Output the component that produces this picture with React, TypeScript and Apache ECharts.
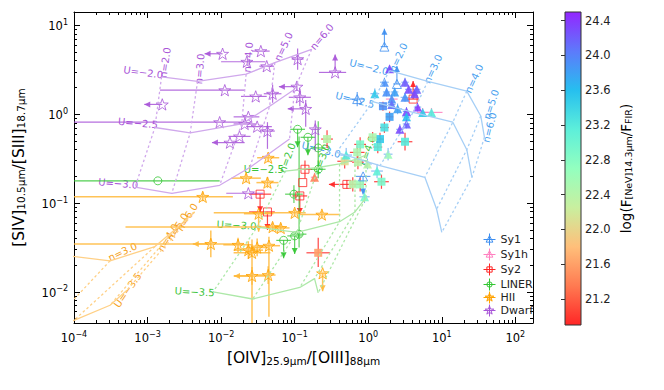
import React, { useEffect, useRef } from 'react';
import * as echarts from 'echarts';

const FONT = 'DejaVu Sans';

// axis ranges (log10 units)
const X_MIN = -4, X_MAX = 2.24;
const Y_MIN = -2.35, Y_MAX = 1.15;
const xMajor = [-4, -3, -2, -1, 0, 1, 2];
const yMajor = [-2, -1, 0, 1];
const cbarMin = 20.9, cbarMax = 24.5;
const cbarTicks = [21.2, 21.6, 22.0, 22.4, 22.8, 23.2, 23.6, 24.0, 24.4];

// model grids: [log OIV/OIII, log SIV/SIII], points ordered n=2.0 .. n=6.0
const agnU20 = [[0.29, 0.49], [0.81, 0.37], [1.34, 0.26], [1.53, -0.02], [1.58, -0.26]];
const agnU25 = [[0.06, 0.14], [0.61, 0.02], [1.15, -0.09], [1.34, -0.40], [1.41, -0.71]];
const agnU30 = [[-0.43, -0.43], [0.16, -0.58], [0.77, -0.71], [0.93, -1.07], [1.0, -1.33]];
const dwarfU20 = [[-2.81, 0.42], [-2.32, 0.37], [-1.66, 0.45], [-1.27, 0.58], [-0.77, 0.73]];
const dwarfU25 = [[-2.9, -0.15], [-2.42, -0.21], [-1.72, -0.11], [-1.34, 0.09], [-1.0, 0.28]];
const dwarfU30 = [[-3.17, -0.82], [-2.67, -0.89], [-2.02, -0.8], [-1.61, -0.6], [-1.07, -0.28]];
const linerU25 = [[-1.13, -0.64], [-0.68, -0.6], [-0.39, -0.56], [-0.18, -0.51], [-0.03, -0.46]];
const linerU30 = [[-1.51, -1.27], [-0.97, -1.33], [-0.39, -1.21], [-0.18, -1.1], [-0.03, -0.94]];
const linerU35 = [[-2.11, -2.0], [-1.57, -2.08], [-0.93, -1.95], [-0.73, -1.85], [-0.68, -2.01]];
const hiiU30 = [[-4.33, -1.57], [-3.51, -1.65], [-2.9, -1.49], [-2.63, -1.3], [-2.36, -1.1]];
const hiiU35 = [[-5.0, -2.7], [-4.46, -2.49], [-4.0, -2.32], [-3.51, -2.15], [-3.28, -1.98]];

// grid labels: [x, y, text, rotation(deg), grid]
const gridLabels: [number, number, string, number, string][] = [
  [0.01, 0.53, 'U=−2.0', -14, 'agn'],
  [-0.18, 0.16, 'U=−2.5', -14, 'agn'],
  [-0.64, -0.4, 'U=−3.0', -14, 'agn'],
  [0.41, 0.64, 'n=2.0', 65, 'agn'],
  [0.88, 0.51, 'n=3.0', 65, 'agn'],
  [1.44, 0.4, 'n=4.0', 65, 'agn'],
  [1.67, 0.11, 'n=5.0', 72, 'agn'],
  [1.65, -0.15, 'n=6.0', 76, 'agn'],
  [-3.06, 0.47, 'U=−2.0', -8, 'dwarf'],
  [-3.13, -0.1, 'U=−2.5', -5, 'dwarf'],
  [-3.4, -0.78, 'U=−3.0', -5, 'dwarf'],
  [-2.76, 0.58, 'n=2.0', 82, 'dwarf'],
  [-2.29, 0.51, 'n=3.0', 85, 'dwarf'],
  [-1.63, 0.64, 'n=4.0', 85, 'dwarf'],
  [-1.15, 0.76, 'n=5.0', 65, 'dwarf'],
  [-0.63, 0.87, 'n=6.0', 50, 'dwarf'],
  [-1.42, -0.62, 'U=−2.5', 0, 'liner'],
  [-1.79, -1.25, 'U=−3.0', -3, 'liner'],
  [-2.36, -2.0, 'U=−3.5', -3, 'liner'],
  [-1.1, -0.49, 'n=2.0', 70, 'liner'],
  [-0.63, -0.5, 'n=3.0', 70, 'liner'],
  [-0.01, -0.41, 'n=4.0', 70, 'liner'],
  [-3.34, -1.55, 'n=3.0', 25, 'hii'],
  [-2.72, -1.39, 'n=4.0', 58, 'hii'],
  [-2.59, -1.27, 'n=5.0', 58, 'hii'],
  [-2.46, -1.16, 'n=6.0', 58, 'hii'],
  [-3.27, -1.98, 'U=−3.5', 55, 'hii'],
];

// observations: [logX, logY, exLow, exHigh, eyLow, eyHigh, limit(0 none,1 down,2 up,3 left), log F[NeV]/F_FIR]
const sy1 = [
  [0.29, 0.51, 0.05, 0.05, 0.04, 0.04, 0, 24.3], [0.22, 0.36, 0.06, 0.06, 0.05, 0.05, 0, 23.9],
  [0.5, 0.36, 0.05, 0.05, 0.05, 0.05, 0, 24.2], [0.09, 0.23, 0.06, 0.06, 0.06, 0.06, 0, 23.5],
  [0.55, 0.28, 0.05, 0.05, 0.04, 0.04, 0, 24.3], [0.66, 0.28, 0.05, 0.05, 0.04, 0.04, 0, 24.2],
  [0.25, 0.25, 0.05, 0.05, 0.05, 0.05, 0, 23.9], [0.36, 0.25, 0.05, 0.05, 0.05, 0.05, 0, 23.8],
  [0.63, 0.23, 0.05, 0.05, 0.04, 0.04, 0, 24.3], [0.5, 0.19, 0.06, 0.06, 0.05, 0.05, 0, 23.9],
  [0.32, 0.11, 0.05, 0.05, 0.05, 0.05, 0, 24.1], [0.4, 0.06, 0.06, 0.06, 0.06, 0.06, 0, 23.8],
  [0.52, 0.03, 0.05, 0.05, 0.05, 0.05, 0, 24.3], [0.67, 0.08, 0.05, 0.05, 0.05, 0.05, 0, 24.4],
  [0.52, -0.03, 0.06, 0.06, 0.06, 0.06, 0, 23.6], [0.52, -0.11, 0.05, 0.05, 0.05, 0.05, 0, 24.2],
  [0.43, -0.17, 0.05, 0.05, 0.06, 0.06, 0, 24.3], [0.27, -0.45, 0.06, 0.06, 0.07, 0.07, 0, 22.6],
  [-0.3, -0.46, 0.08, 0.08, 0.08, 0.08, 0, 23.2], [0.12, -0.64, 0.08, 0.08, 0.08, 0.08, 0, 23.1],
  [-0.05, -0.93, 0.07, 0.07, 0.07, 0.07, 0, 22.9], [-0.01, -0.56, 0.06, 0.06, 0.06, 0.06, 0, 22.4],
];
const sy1Limits = [
  [0.22, 0.76, 0.05, 0.05, 0, 0, 2], [0.39, 0.34, 0.05, 0.05, 0, 0, 2],
  [-0.07, -0.7, 0.1, 0.1, 0, 0, 1], [-0.15, 0.17, 0.1, 0.1, 0.08, 0.08, 0],
];
const sy1h = [
  [0.86, 0.02, 0.15, 0.15, 0.05, 0.05, 0, 23.2], [0.74, 0.02, 0.08, 0.08, 0.05, 0.05, 0, 23.5],
  [0.32, 0.17, 0.08, 0.08, 0.06, 0.06, 0, 23.9], [-0.73, -0.71, 0.05, 0.05, 0.05, 0.05, 0, 21.4],
];
const sy2 = [
  [0.2, 0.09, 0.05, 0.05, 0.05, 0.05, 0, 23.9], [0.29, -0.03, 0.05, 0.05, 0.06, 0.06, 0, 23.8],
  [0.22, -0.15, 0.06, 0.06, 0.06, 0.06, 0, 23.3], [0.16, -0.28, 0.05, 0.05, 0.07, 0.07, 0, 23.5],
  [0.13, -0.37, 0.06, 0.06, 0.07, 0.07, 0, 23.2], [0.06, -0.26, 0.06, 0.06, 0.06, 0.06, 0, 22.5],
  [-0.11, -0.34, 0.08, 0.08, 0.08, 0.08, 0, 22.9], [-0.15, -0.43, 0.1, 0.1, 0.08, 0.08, 0, 22.5],
  [-0.32, -0.53, 0.1, 0.1, 0.08, 0.08, 0, 22.1], [0.5, -0.31, 0.1, 0.1, 0.1, 0.1, 0, 23.2],
  [-0.14, -0.54, 0.08, 0.08, 0.08, 0.08, 0, 22.4], [0.18, -0.76, 0.1, 0.1, 0.08, 0.08, 0, 22.9],
  [-0.21, -0.79, 0.08, 0.08, 0.08, 0.08, 0, 22.4], [-0.11, -0.79, 0.08, 0.08, 0.08, 0.08, 0, 22.6],
  [-0.68, -1.56, 0.16, 0.16, 0.16, 0.17, 0, 21.6], [-0.56, -0.28, 0.08, 0.08, 0.1, 0.1, 0, 22.4],
];
const sy2Limits = [
  [-0.86, -0.62, 0.1, 0.1, 0.1, 0.1, 0], [-0.89, -0.77, 0, 0, 0, 0, 0],
  [-1.47, -0.9, 0.15, 0.15, 0, 0, 1], [-0.93, -0.92, 0.1, 0.1, 0, 0, 1],
  [-1.37, -1.1, 0.25, 0.1, 0, 0, 1], [0.61, 0.17, 0.08, 0.08, 0, 0, 2],
  [-0.29, -0.79, 0, 0, 0.05, 0.05, 3],
];
const liner = [
  [-2.86, -0.75, 1.14, 0.84, 0, 0, 0], [-0.96, -0.17, 0.1, 0.1, 0, 0, 1],
  [-0.82, -0.26, 0.1, 0.1, 0, 0, 1], [-0.68, -0.38, 0.1, 0.1, 0.3, 0.3, 0],
  [-0.68, -0.62, 0.1, 0.1, 0.1, 0.1, 0], [-1.01, -0.9, 0.12, 0.12, 0.1, 0.1, 0],
  [-1.15, -1.42, 0.1, 0.1, 0, 0, 1], [-1.0, -1.37, 0.1, 0.1, 0, 0, 1],
  [-0.94, -1.35, 0.1, 0.1, 0.15, 1.1, 0],
];
const hii = [
  [-1.36, -0.49, 0.15, 0.15, 0.05, 0.05, 0], [-1.66, -0.72, 0.2, 0.2, 0.05, 0.05, 0],
  [-1.37, -0.77, 0.15, 0.15, 0.06, 0.06, 0], [-2.25, -0.93, 1.75, 0.41, 0.05, 0.05, 0],
  [-1.49, -1.12, 0.2, 0.2, 0, 0, 1], [-1.3, -1.27, 2.0, 0.15, 0.05, 0.05, 0],
  [-1.19, -1.28, 0.12, 0.12, 0.05, 0.05, 0], [-1.0, -1.11, 1.1, 0.15, 0.04, 0.04, 0],
  [-0.63, -1.13, 0.3, 0.25, 0.04, 0.04, 0], [-2.14, -1.46, 1.86, 0.4, 0.15, 0.15, 3],
  [-1.77, -1.47, 0.2, 0.2, 0.08, 0.08, 0], [-1.63, -1.53, 0.2, 0.2, 0.1, 0.1, 0],
  [-1.58, -1.56, 0.25, 0.25, 0.8, 0.15, 0], [-1.51, -1.5, 0.15, 0.15, 0.1, 0.1, 0],
  [-1.35, -1.48, 0.15, 0.15, 0.8, 0.1, 0], [-1.58, -1.82, 0.25, 0.2, 0.1, 0.1, 3],
  [-1.36, -1.81, 0.15, 0.1, 0.1, 0.1, 0], [-0.62, -1.79, 0.05, 0.05, 0, 0, 1],
];
const dwarf = [
  [-1.98, 0.68, 0, 0, 0, 0, 3], [-1.46, 0.71, 0.12, 0.12, 0, 0, 0],
  [-1.65, 0.59, 0.35, 0.25, 0, 0, 0], [-1.38, 0.54, 0.1, 0.1, 0, 0, 0],
  [-0.96, 0.62, 0.08, 0.08, 0.12, 0.12, 0], [-0.45, 0.47, 0.22, 0.15, 0, 0, 2],
  [-1.95, 0.27, 0.88, 0.27, 0, 0, 0], [-2.8, 0.11, 0, 0, 0, 0, 3],
  [-1.53, 0.2, 0.2, 0.15, 0, 0, 0], [-1.3, 0.23, 0.12, 0.12, 0.1, 0.1, 0],
  [-0.97, 0.31, 0, 0, 0.05, 0.05, 3], [-0.93, 0.19, 0.15, 0.15, 0.1, 0.1, 0],
  [-0.85, 0.06, 0, 0, 0.2, 0.1, 3], [-2.02, -0.09, 1.98, 0.35, 0, 0, 0],
  [-1.63, -0.03, 0.2, 0.15, 0, 0, 0], [-1.68, -0.11, 0.15, 0.15, 0, 0, 0],
  [-1.51, -0.14, 0.15, 0.2, 0, 0, 0], [-1.37, -0.19, 0.1, 0.1, 0.2, 0.1, 0],
  [-1.75, -0.25, 0.15, 0.15, 0, 0, 0], [-1.88, -0.32, 0, 0.2, 0, 0, 3],
  [-0.72, -0.17, 0.05, 0.05, 0.25, 0.1, 0], [-1.63, -0.89, 0.3, 0.2, 0, 0, 0],
];

const C: Record<string, string> = {
  sy1: '#3d8ef0', sy1h: '#ff80c0', sy2: '#ff2424', liner: '#33c633', hii: '#ffa200', dwarf: '#a855d8',
};
const LINE_C: Record<string, string> = { agn: '#a6cff6', dwarf: '#d0a8ec', liner: '#ade8a8', hii: '#ffd086' };
const LABEL_C: Record<string, string> = { agn: '#4a9fef', dwarf: '#a855d8', liner: '#3cc43c', hii: '#f5a11a' };
// rainbow colour map (low -> high)
const CMAP = ['#ff2626', '#ff7a51', '#ffbf7a', '#c9ef9f', '#93ffbf', '#5defda', '#26bfef', '#5d7afb', '#9326ff'];

const starPath = 'path://M0,-10L2.35,-3.24L9.51,-3.09L3.8,1.24L5.88,8.09L0,4L-5.88,8.09L-3.8,1.24L-9.51,-3.09L-2.35,-3.24Z';
const cross = 'M0,-8L0,8M-8,0L8,0';
const legTri = 'path://M0,-5L4.5,3.5L-4.5,3.5Z' + cross;
const legSq = 'path://M-3.5,-3.5L3.5,-3.5L3.5,3.5L-3.5,3.5Z' + cross;
const legCirc = 'path://M-3.5,0A3.5,3.5,0,1,0,3.5,0A3.5,3.5,0,1,0,-3.5,0Z' + cross;
const legStar = 'path://M0,-6L1.41,-1.94L5.71,-1.85L2.28,0.74L3.53,4.85L0,2.4L-3.53,4.85L-2.28,0.74L-5.71,-1.85L-1.41,-1.94Z' + cross;

function minorTicks(lo: number, hi: number) {
  const out: number[] = [];
  for (let d = Math.floor(lo) - 1; d <= Math.ceil(hi); d++) {
    for (let k = 2; k <= 9; k++) {
      const v = d + Math.log10(k);
      if (v >= lo && v <= hi) out.push(v);
    }
  }
  return out;
}

const pow10 = (v: number) => `{b|10}{s|${v < 0 ? '−' + Math.abs(v) : v}}`;
const powRich = {
  b: { fontFamily: FONT, fontSize: 11.5, color: '#000', lineHeight: 14, padding: [4, 0, 0, 0], verticalAlign: 'bottom' },
  s: { fontFamily: FONT, fontSize: 8, color: '#000', lineHeight: 10, verticalAlign: 'top' },
};
const nameRich = {
  n: { fontFamily: FONT, fontSize: 15.5, color: '#000', lineHeight: 18, padding: [0, 0, 4, 0], verticalAlign: 'top' },
  sub: { fontFamily: FONT, fontSize: 10.5, color: '#000', lineHeight: 12, padding: [0, 0, 2, 0], verticalAlign: 'bottom' },
};

function gridLines(lines: number[][][], key: string) {
  const out: any[] = [];
  const color = LINE_C[key];
  lines.forEach((l) =>
    out.push({ type: 'line', data: l, symbol: 'none', clip: true, silent: true, lineStyle: { color, width: 1.3 } })
  );
  for (let i = 0; i < lines[0].length; i++) {
    out.push({
      type: 'line', data: lines.map((l) => l[i]), symbol: 'none', clip: true, silent: true,
      lineStyle: { color, width: 1.3, type: [2.5, 2.5] },
    });
  }
  return out;
}

function errSeries(name: string, data: number[][], color: string, width: number) {
  return {
    type: 'custom', name, data, clip: true, silent: true,
    encode: { x: 0, y: 1 },
    renderItem: (params: any, api: any) => {
      const x = api.value(0), y = api.value(1);
      const exL = api.value(2), exH = api.value(3), eyL = api.value(4), eyH = api.value(5), lim = api.value(6);
      const p = api.coord([x, y]);
      const st = { stroke: color, lineWidth: width, opacity: 0.85 };
      const ch: any[] = [];
      if (exL || exH) {
        const a = api.coord([x - exL, y]), b = api.coord([x + exH, y]);
        ch.push({ type: 'line', shape: { x1: a[0], y1: a[1], x2: b[0], y2: b[1] }, style: st });
      }
      if (eyL || eyH) {
        const a = api.coord([x, y - eyL]), b = api.coord([x, y + eyH]);
        ch.push({ type: 'line', shape: { x1: a[0], y1: a[1], x2: b[0], y2: b[1] }, style: st });
      }
      const L = 18;
      if (lim === 1 || lim === 2) {
        const s = lim === 1 ? 1 : -1;
        const ey = p[1] + s * L;
        ch.push({ type: 'line', shape: { x1: p[0], y1: p[1], x2: p[0], y2: ey }, style: st });
        ch.push({ type: 'polygon', shape: { points: [[p[0] - 3, ey - s * 6], [p[0], ey], [p[0] + 3, ey - s * 6]] }, style: { fill: color, opacity: 0.9 } });
      } else if (lim === 3) {
        const ex = p[0] - L;
        ch.push({ type: 'line', shape: { x1: p[0], y1: p[1], x2: ex, y2: p[1] }, style: st });
        ch.push({ type: 'polygon', shape: { points: [[ex + 6, p[1] - 3], [ex, p[1]], [ex + 6, p[1] + 3]] }, style: { fill: color, opacity: 0.9 } });
      }
      return { type: 'group', children: ch };
    },
  };
}

function buildOption() {
  const xMinor = minorTicks(X_MIN, X_MAX);
  const yMinor = minorTicks(Y_MIN, Y_MAX);
  const axisLineStyle = { color: '#000', width: 1 };

  const series: any[] = [
    ...gridLines([agnU20, agnU25, agnU30], 'agn'),
    ...gridLines([dwarfU20, dwarfU25, dwarfU30], 'dwarf'),
    ...gridLines([linerU25, linerU30, linerU35], 'liner'),
    ...gridLines([hiiU30, hiiU35], 'hii'),
    {
      type: 'custom', name: 'labels', silent: true, clip: false,
      data: gridLabels.map((l) => [l[0], l[1]]),
      encode: { x: 0, y: 1 },
      renderItem: (params: any, api: any) => {
        const d = gridLabels[params.dataIndex];
        const p = api.coord([d[0], d[1]]);
        return {
          type: 'text', x: p[0], y: p[1], rotation: (d[3] * Math.PI) / 180,
          style: { text: d[2], fill: LABEL_C[d[4]], fontSize: 10, fontFamily: FONT, align: 'center', verticalAlign: 'middle' },
        };
      },
    },
    errSeries('Sy1', sy1, '#5ea3f2', 1),
    errSeries('Sy1', sy1Limits, C.sy1, 1.1),
    errSeries('Sy1h', sy1h, C.sy1h, 1.2),
    errSeries('Sy2', sy2, C.sy2, 1.2),
    errSeries('Sy2', sy2Limits, C.sy2, 1.2),
    errSeries('LINER', liner, C.liner, 1.1),
    errSeries('HII', hii, '#ffb93a', 1.5),
    errSeries('Dwarf', dwarf, C.dwarf, 1.2),
  ];
  const filledIdx: number[] = [];
  const pushFilled = (s: any) => { filledIdx.push(series.length); series.push(s); };
  series.push({
    type: 'scatter', name: 'Dwarf', data: dwarf, encode: { x: 0, y: 1 }, symbol: starPath, symbolKeepAspect: true, symbolSize: 12,
    itemStyle: { color: 'rgba(255,255,255,0)', borderColor: C.dwarf, borderWidth: 1 },
  });
  series.push({
    type: 'scatter', name: 'HII', data: hii, encode: { x: 0, y: 1 }, symbol: starPath, symbolKeepAspect: true, symbolSize: 12,
    itemStyle: { color: 'rgba(255,190,80,0.35)', borderColor: C.hii, borderWidth: 1 },
  });
  series.push({
    type: 'scatter', name: 'LINER', data: liner, encode: { x: 0, y: 1 }, symbol: 'circle', symbolSize: 8,
    itemStyle: { color: 'rgba(255,255,255,0)', borderColor: C.liner, borderWidth: 1 },
  });
  series.push({
    type: 'scatter', name: 'Sy2', data: sy2Limits, encode: { x: 0, y: 1 }, symbol: 'rect', symbolSize: 8,
    itemStyle: { color: 'rgba(255,255,255,0)', borderColor: C.sy2, borderWidth: 1 },
  });
  pushFilled({
    type: 'scatter', name: 'Sy2', data: sy2, encode: { x: 0, y: 1 }, symbol: 'rect', symbolSize: 8,
    itemStyle: { opacity: 0.9 },
  });
  series.push({
    type: 'scatter', name: 'Sy1', data: sy1Limits, encode: { x: 0, y: 1 }, symbol: 'triangle', symbolSize: 9,
    itemStyle: { color: 'rgba(255,255,255,0)', borderColor: C.sy1, borderWidth: 1 },
  });
  pushFilled({
    type: 'scatter', name: 'Sy1h', data: sy1h, encode: { x: 0, y: 1 }, symbol: 'triangle', symbolSize: 9,
    itemStyle: { opacity: 0.9 },
  });
  pushFilled({
    type: 'scatter', name: 'Sy1', data: sy1, encode: { x: 0, y: 1 }, symbol: 'triangle', symbolSize: 9,
    itemStyle: { opacity: 0.9 },
  });

  const xBase = { type: 'value', min: X_MIN, max: X_MAX, gridIndex: 0, splitLine: { show: false } };
  const yBase = { type: 'value', min: Y_MIN, max: Y_MAX, gridIndex: 0, splitLine: { show: false } };

  return {
    animation: false,
    backgroundColor: '#fff',
    textStyle: { fontFamily: FONT },
    grid: [
      { left: 74, top: 12, width: 459, height: 311 },
      { left: 565, top: 12, width: 16, height: 313 },
    ],
    xAxis: [
      {
        ...xBase, position: 'bottom',
        axisLine: { show: true, onZero: false, lineStyle: axisLineStyle },
        axisTick: { show: true, inside: true, length: 6, customValues: xMajor, lineStyle: axisLineStyle },
        axisLabel: { show: true, customValues: xMajor, formatter: pow10, rich: powRich, margin: 7 },
        name: '{n|[OIV]}{sub|25.9μm}{n|/[OIII]}{sub|88μm}',
        nameLocation: 'middle', nameGap: 27, nameTextStyle: { rich: nameRich },
      },
      {
        ...xBase, position: 'bottom', axisLine: { show: false, onZero: false },
        axisTick: { show: true, inside: true, length: 3, customValues: xMinor, lineStyle: axisLineStyle },
        axisLabel: { show: false },
      },
      {
        ...xBase, position: 'top', axisLine: { show: true, onZero: false, lineStyle: axisLineStyle },
        axisTick: { show: true, inside: true, length: 6, customValues: xMajor, lineStyle: axisLineStyle },
        axisLabel: { show: false },
      },
      {
        ...xBase, position: 'top', axisLine: { show: false, onZero: false },
        axisTick: { show: true, inside: true, length: 3, customValues: xMinor, lineStyle: axisLineStyle },
        axisLabel: { show: false },
      },
      { type: 'value', gridIndex: 1, min: 0, max: 1, show: false },
    ],
    yAxis: [
      {
        ...yBase, position: 'left',
        axisLine: { show: true, onZero: false, lineStyle: axisLineStyle },
        axisTick: { show: true, inside: true, length: 6, customValues: yMajor, lineStyle: axisLineStyle },
        axisLabel: { show: true, customValues: yMajor, formatter: pow10, rich: powRich, margin: 6 },
        name: '{n|[SIV]}{sub|10.5μm}{n|/[SIII]}{sub|18.7μm}',
        nameLocation: 'middle', nameRotate: 90, nameGap: 31, nameTextStyle: { rich: nameRich },
      },
      {
        ...yBase, position: 'left', axisLine: { show: false, onZero: false },
        axisTick: { show: true, inside: true, length: 3, customValues: yMinor, lineStyle: axisLineStyle },
        axisLabel: { show: false },
      },
      {
        ...yBase, position: 'right', axisLine: { show: true, onZero: false, lineStyle: axisLineStyle },
        axisTick: { show: true, inside: true, length: 6, customValues: yMajor, lineStyle: axisLineStyle },
        axisLabel: { show: false },
      },
      {
        ...yBase, position: 'right', axisLine: { show: false, onZero: false },
        axisTick: { show: true, inside: true, length: 3, customValues: yMinor, lineStyle: axisLineStyle },
        axisLabel: { show: false },
      },
      {
        type: 'value', gridIndex: 1, min: cbarMin, max: cbarMax, position: 'right', z: 10,
        splitLine: { show: false },
        axisLine: { show: false },
        axisTick: { show: true, inside: true, length: 4, customValues: cbarTicks, lineStyle: { color: '#333' } },
        axisLabel: {
          show: true, customValues: cbarTicks, margin: 4, fontFamily: FONT, fontSize: 11.5, color: '#222',
          formatter: (v: number) => v.toFixed(1),
        },
        name: '{n|log(F}{sub|[NeV]14.3μm}{n|/F}{sub|FIR}{n|)}',
        nameLocation: 'middle', nameRotate: 90, nameGap: 38,
        nameTextStyle: {
          rich: {
            n: { fontFamily: FONT, fontSize: 13.5, color: '#000', lineHeight: 16, padding: [0, 0, 4, 0], verticalAlign: 'top' },
            sub: { fontFamily: FONT, fontSize: 9.5, color: '#000', lineHeight: 11, padding: [0, 0, 2, 0], verticalAlign: 'bottom' },
          },
        },
      },
    ],
    visualMap: {
      type: 'continuous', show: false, min: cbarMin, max: cbarMax, dimension: 7,
      seriesIndex: filledIdx, inRange: { color: CMAP },
    },
    legend: {
      show: true, orient: 'vertical', left: 481, top: 231, padding: 0,
      itemWidth: 12, itemHeight: 12, itemGap: -2,
      selectedMode: false,
      textStyle: { fontFamily: FONT, fontSize: 11, color: '#222' },
      data: [
        { name: 'Sy1', icon: legTri, itemStyle: { color: 'none', borderColor: C.sy1, borderWidth: 1 } },
        { name: 'Sy1h', icon: legTri, itemStyle: { color: 'none', borderColor: C.sy1h, borderWidth: 1 } },
        { name: 'Sy2', icon: legSq, itemStyle: { color: 'none', borderColor: C.sy2, borderWidth: 1 } },
        { name: 'LINER', icon: legCirc, itemStyle: { color: 'none', borderColor: C.liner, borderWidth: 1 } },
        { name: 'HII', icon: legStar, itemStyle: { color: 'rgba(255,180,60,0.6)', borderColor: C.hii, borderWidth: 1 } },
        { name: 'Dwarf', icon: legStar, itemStyle: { color: 'none', borderColor: C.dwarf, borderWidth: 1 } },
      ],
    },
    graphic: [
      {
        type: 'rect', z: 0, silent: true,
        shape: { x: 565, y: 12, width: 16, height: 313 },
        style: {
          fill: new echarts.graphic.LinearGradient(0, 1, 0, 0,
            CMAP.map((c, i) => ({ offset: i / (CMAP.length - 1), color: c }))),
          stroke: '#333', lineWidth: 1,
        },
      },
    ],
    series,
  };
}

export default function App() {
  const ref = useRef<HTMLDivElement>(null);
  useEffect(() => {
    document.body.style.margin = '0';
    const chart = echarts.init(ref.current!, null, { renderer: 'svg' });
    chart.setOption(buildOption() as any);
    return () => chart.dispose();
  }, []);
  return <div ref={ref} style={{ width: 664, height: 390 }} />;
}
